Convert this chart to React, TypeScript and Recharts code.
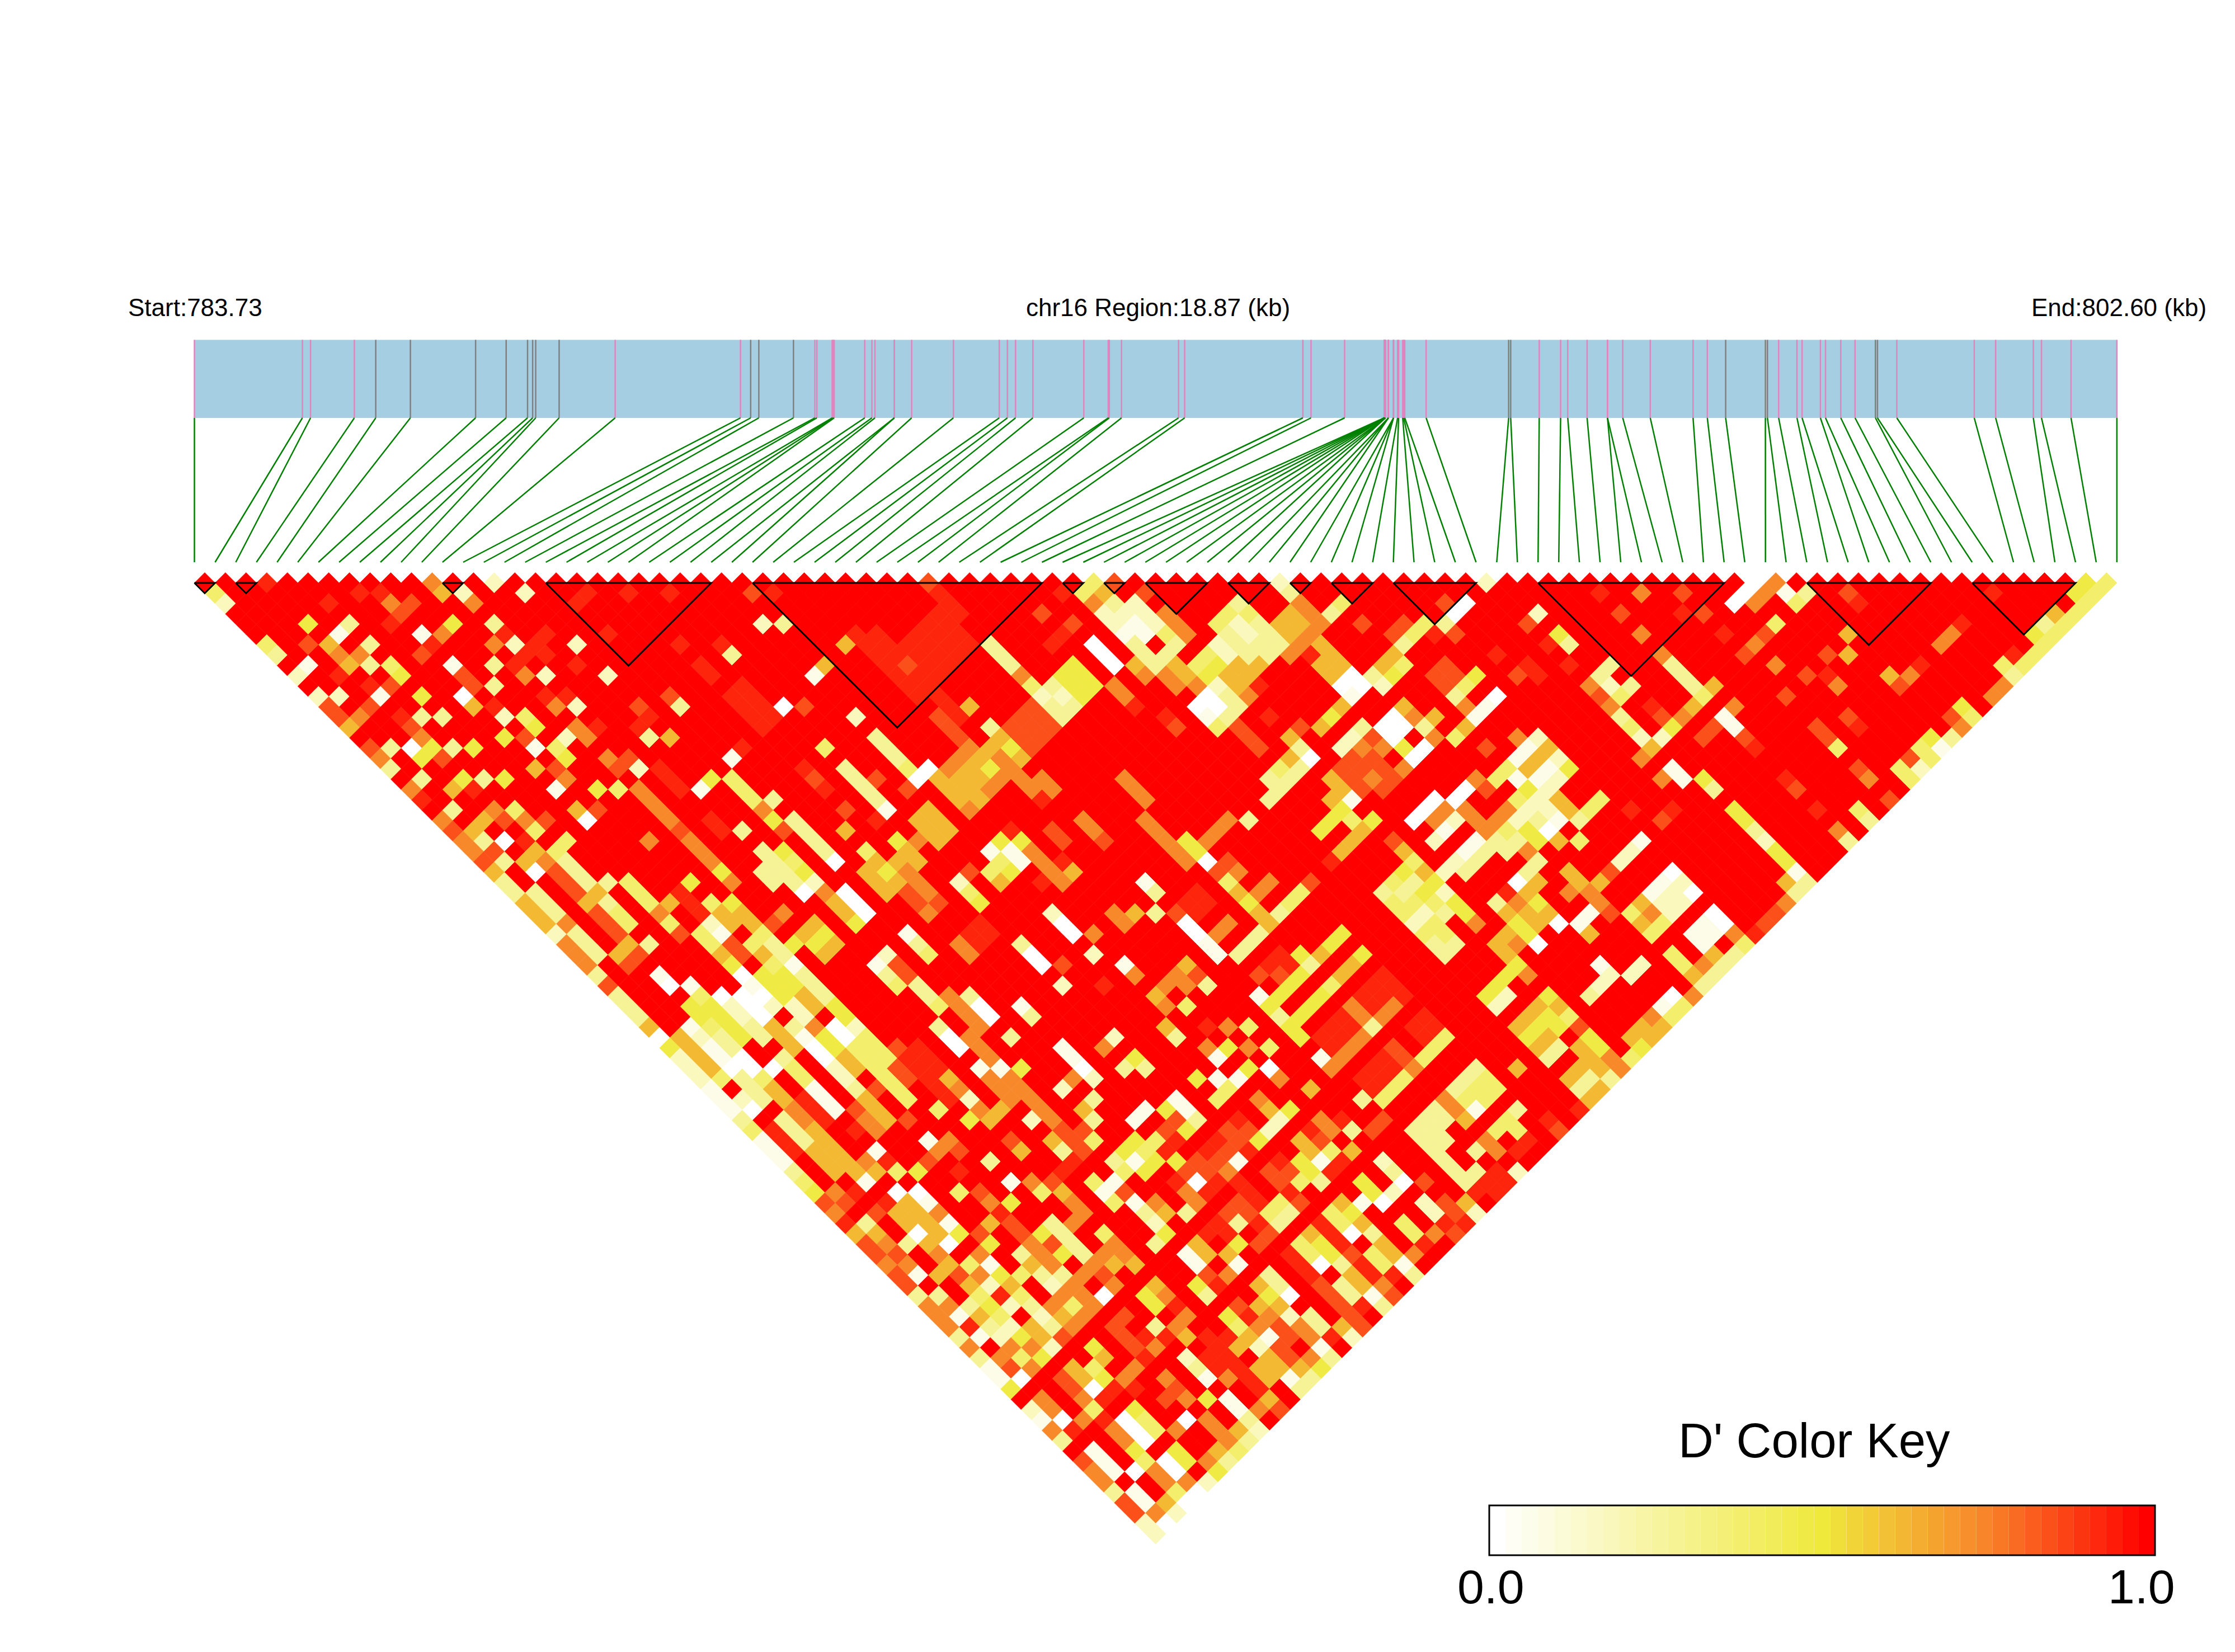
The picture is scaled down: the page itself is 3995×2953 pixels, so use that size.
import { ReferenceArea, ReferenceLine, Scatter, ScatterChart, XAxis, YAxis } from "recharts";

const WIDTH = 3995;
const HEIGHT = 2953;
const STEP = 18.475; // half a cell, in px
const LEFT = 347.5;
const TOP = 1023.5;

const START_KB = 783.73;
const END_KB = 802.6;

// SNP positions along the region, kb
const SNP_KB = [
  783.73, 784.79, 784.87, 785.3, 785.51, 785.85, 786.49, 786.79, 787.0, 787.05, 787.08, 787.31, 787.86, 789.09, 789.19,
  789.27, 789.61, 789.82, 789.84, 789.99, 790.0, 790.01, 790.31, 790.38, 790.41, 790.6, 790.6, 790.77, 791.18, 791.63,
  791.71, 791.79, 791.96, 792.46, 792.7, 792.71, 792.83, 793.39, 793.45, 794.61, 794.69, 795.02, 795.41, 795.41, 795.41,
  795.41, 795.41, 795.41, 795.42, 795.42, 795.42, 795.45, 795.45, 795.45, 795.5, 795.5, 795.5, 795.54, 795.55, 795.59,
  795.6, 795.61, 795.82, 796.63, 796.65, 796.93, 797.14, 797.21, 797.4, 797.6, 797.6, 797.75, 798.02, 798.44, 798.58,
  798.76, 799.15, 799.17, 799.28, 799.46, 799.51, 799.69, 799.74, 799.89, 800.03, 800.23, 800.25, 800.44, 801.2, 801.41,
  801.78, 801.86, 802.15, 802.6,
];
const GRAY_SNPS = [4, 5, 6, 7, 8, 9, 10, 11, 14, 15, 16, 63, 64, 75, 76, 77, 85, 86];

// haplotype blocks, first and last SNP
const BLOCKS = [
  [0, 1], [2, 3], [12, 13], [17, 25], [27, 41], [42, 43], [44, 45], [46, 49], [50, 52], [53, 54], [55, 57], [58, 62],
  [65, 74], [78, 84], [86, 91],
];

// D' of a level digit; anything not listed below is 1.0
const LEVEL_VALUES = [0, 0.06, 0.17, 0.27, 0.38, 0.48, 0.62, 0.74, 0.85, 0.93];

// wide areas: column, depth, cells down-right, cells down-left, level
const PATCHES = [
  [71, 1, 3, 0, 9], [64, 6, 6, 0, 9], [66, 6, 8, 0, 9], [45, 19, 2, 0, 9], [81, 13, 2, 2, 8], [121, 9, 1, 1, 8],
  [115, 39, 2, 2, 9], [119, 43, 1, 1, 9], [115, 47, 2, 2, 9], [111, 43, 2, 2, 9], [105, 37, 1, 1, 9], [97, 31, 1, 1, 9],
  [76, 34, 1, 1, 9], [70, 47, 1, 1, 9], [53, 11, 3, 1, 9], [58, 11, 4, 1, 9], [72, 4, 3, 3, 9], [47, 25, 3, 0, 7],
  [73, 41, 3, 0, 7], [68, 46, 2, 1, 8], [70, 46, 4, 1, 9], [76, 46, 3, 0, 7], [79, 49, 4, 0, 7], [92, 24, 4, 0, 7],
];

// cells read as column,depth,level
const CELLS_UPPER_LEFT = `7,1,9 23,1,7 29,1,2 71,1,8 87,1,4 89,1,8 2,2,4 16,2,9 18,2,9 24,2,6 26,2,2 32,2,2 38,2,9 42,2,9 46,2,9 54,2,8 56,2,9 72,2,9 84,2,9 86,2,4 88,2,6 92,2,8
3,3,2 13,3,9 19,3,7 21,3,8 27,3,7 37,3,9 87,3,7 89,3,3 91,3,2 20,4,8 82,4,8 88,4,2 90,4,2 92,4,2 11,5,5 15,5,3 19,5,9 25,5,5 29,5,3 55,5,2 57,5,3 85,5,8 89,5,2 91,5,1 14,6,1 22,6,1 24,6,7 30,6,9 34,6,9 40,6,9 84,6,9 90,6,1 92,6,1
7,7,4 11,7,8 13,7,6 17,7,3 23,7,9 29,7,7 31,7,2 33,7,9 37,7,2 47,7,9 51,7,9 63,7,6 77,7,3 83,7,9 87,7,0 91,7,3 8,8,3 14,8,7 16,8,7 22,8,8 32,8,9 34,8,9 52,8,3 78,8,3 88,8,0 92,8,3
11,9,1 15,9,6 17,9,3 19,9,4 25,9,1 29,9,3 31,9,9 37,9,9 49,9,9 61,9,6 69,9,8 79,9,3 85,9,5 89,9,0 91,9,6 10,10,2 14,10,9 20,10,5 26,10,8 32,10,7 34,10,2 40,10,2 50,10,9 60,10,1 80,10,7 84,10,5 86,10,5 92,10,7
17,11,9 19,11,8 27,11,8 29,11,3 81,11,4 83,11,3 85,11,5 87,11,5 89,11,7 12,12,2 14,12,2 18,12,1 22,12,5 26,12,0 34,12,9 36,12,9 46,12,8 82,12,2 84,12,2 86,12,5 90,12,7
13,13,8 17,13,8 27,13,6 29,13,9 35,13,7 37,13,2 43,13,8 47,13,3 57,13,0 59,13,8 73,13,9 75,13,6 83,13,3 85,13,3 91,13,9 14,14,8 16,14,7 20,14,9 22,14,3 24,14,3 30,14,2 32,14,4 44,14,9 64,14,2 72,14,8 84,14,3
15,15,6 21,15,8 33,15,5 37,15,7 39,15,9 43,15,9 73,15,8 77,15,3 22,16,7 30,16,5 32,16,8 36,16,2 38,16,7 44,16,3 46,16,6 66,16,3 74,16,8 78,16,6
17,17,8 19,17,3 21,17,0 23,17,5 25,17,3 27,17,5 33,17,1 35,17,4 53,17,9 61,17,4 67,17,3 75,17,7 77,17,6 79,17,5 18,18,7 22,18,5 24,18,8 36,18,5 40,18,7 42,18,8 52,18,1 68,18,3 74,18,7 76,18,6 78,18,7 80,18,6
19,19,3 33,19,6 35,19,8 41,19,8 43,19,2 59,19,9 63,19,3 69,19,4 71,19,0 73,19,7 75,19,6 77,19,5 79,19,7 22,20,3 26,20,5 28,20,3 30,20,5 36,20,7 50,20,5 52,20,4 60,20,8 64,20,3 66,20,8 70,20,0 72,20,6 74,20,6 76,20,6 78,20,7 80,20,7 82,20,7 90,20,7
21,21,7 25,21,6 27,21,9 35,21,1 39,21,5 41,21,4 43,21,7 49,21,1 53,21,4 61,21,9 65,21,3 69,21,8 73,21,6 75,21,6 77,21,7 81,21,7 83,21,7 91,21,7 22,22,9 44,22,7 54,22,4 56,22,3 66,22,3 74,22,6 76,22,6 82,22,9 92,22,7
25,23,3 29,23,7 31,23,4 37,23,6 39,23,8 45,23,7 55,23,7 63,23,8 67,23,1 71,23,6 75,23,7 24,24,7 28,24,6 30,24,8 32,24,7 34,24,8 38,24,0 46,24,7 50,24,9 56,24,5 58,24,3 66,24,9 70,24,6 72,24,6 86,24,7
25,25,8 27,25,6 33,25,4 47,25,8 51,25,9 53,25,3 57,25,8 59,25,3 63,25,6 71,25,6 73,25,6 79,25,9 83,25,8 87,25,7 26,26,7 28,26,3 30,26,0 32,26,9 36,26,4 44,26,7 48,26,7 60,26,3 68,26,5 70,26,7 72,26,6 78,26,5 80,26,5 84,26,8 88,26,8`;

const CELLS_UPPER_RIGHT = `105,1,2 125,1,2 151,1,0 153,1,7 183,1,5 185,1,4 106,2,3 136,2,9 140,2,7 144,2,8 150,2,0 152,2,7 154,2,1 156,2,3 160,2,8 174,2,9 182,2,5 184,2,4
101,3,3 107,3,7 111,3,4 121,3,8 123,3,0 149,3,0 151,3,7 155,3,4 161,3,9 183,3,4 94,4,7 100,4,4 102,4,4 106,4,6 108,4,7 110,4,3 122,4,0 130,4,2 138,4,8 144,4,9 146,4,8 180,4,6 182,4,4
93,5,2 95,5,7 99,5,4 101,5,2 103,5,3 105,5,6 107,5,6 109,5,7 113,5,8 117,5,8 119,5,4 121,5,3 129,5,8 153,5,4 171,5,9 179,5,3 181,5,4 94,6,4 96,6,7 100,6,3 102,6,2 104,6,3 106,6,6 108,6,7 116,6,8 118,6,4 120,6,9 122,6,8 132,6,5 140,6,7 148,6,9 152,6,8 160,6,6 170,6,7 178,6,5 180,6,4
95,7,3 99,7,2 101,7,3 103,7,3 105,7,3 107,7,7 109,7,6 117,7,3 131,7,9 133,7,3 151,7,7 169,7,7 179,7,4 94,8,3 98,8,4 100,8,2 102,8,3 104,8,3 106,8,7 108,8,9 110,8,6 116,8,6 126,8,9 142,8,7 150,8,8 158,8,8 160,8,6 176,8,9 178,8,4
93,9,3 95,9,6 97,9,4 99,9,5 101,9,6 103,9,6 109,9,6 111,9,6 115,9,6 117,9,4 129,9,9 133,9,9 137,9,3 143,9,3 153,9,7 167,9,9 175,9,4 177,9,4
94,10,7 96,10,6 98,10,5 100,10,6 102,10,6 110,10,6 112,10,0 114,10,3 116,10,5 124,10,5 128,10,8 130,10,9 136,10,3 144,10,3 156,10,8 158,10,9 164,10,6 166,10,7 176,10,3
95,11,7 97,11,7 99,11,2 101,11,6 103,11,9 111,11,0 113,11,0 115,11,2 123,11,4 135,11,7 137,11,2 139,11,3 145,11,3 147,11,6 159,11,7 165,11,8 175,11,7
98,12,0 100,12,3 102,12,7 112,12,1 122,12,3 126,12,0 136,12,8 138,12,4 146,12,4 154,12,8 174,12,7
97,13,0 99,13,0 101,13,3 111,13,6 117,13,6 123,13,7 125,13,1 137,13,7 141,13,9 145,13,6 149,13,7 171,13,5 94,14,9 98,14,1 100,14,3 104,14,9 110,14,5 116,14,0 118,14,7 120,14,6 124,14,1 138,14,3 142,14,8 144,14,7 148,14,1 160,14,8 170,14,8 172,14,4
95,15,8 99,15,4 101,15,8 107,15,8 109,15,6 113,15,3 115,15,0 117,15,0 119,15,3 123,15,6 139,15,4 143,15,5 147,15,8 149,15,1 157,15,8 161,15,9 171,15,7
102,16,8 106,16,6 112,16,2 114,16,8 116,16,0 120,16,7 122,16,4 128,16,7 130,16,2 140,16,2 142,16,2 146,16,8 150,16,8 158,16,8 168,16,5 170,16,3
103,17,8 107,17,3 111,17,2 113,17,7 115,17,7 117,17,5 119,17,0 125,17,8 129,17,1 131,17,6 141,17,6 151,17,9 159,17,4 167,17,4 169,17,1
106,18,6 108,18,0 112,18,8 114,18,8 118,18,0 128,18,1 130,18,6 132,18,2 140,18,7 166,18,8 168,18,4
105,19,4 107,19,3 111,19,8 113,19,8 115,19,8 117,19,7 127,19,4 129,19,6 131,19,1 133,19,5 143,19,1 161,19,8 165,19,4 167,19,2
104,20,3 106,20,3 110,20,6 112,20,8 114,20,7 116,20,8 124,20,7 126,20,4 128,20,1 130,20,1 132,20,2 142,20,7 144,20,1 146,20,5 154,20,9 162,20,7 166,20,4
105,21,3 111,21,6 113,21,8 115,21,8 123,21,0 125,21,8 129,21,5 131,21,2 147,21,3 155,21,8 104,22,3 110,22,6 112,22,1 120,22,0 122,22,0 128,22,4 130,22,2 132,22,6 136,22,4 163,22,8
111,23,5 119,23,0 121,23,7 123,23,7 127,23,7 129,23,2 131,23,2 133,23,6 135,23,4 139,23,9 143,23,9 149,23,5 157,23,9 161,23,4
100,24,7 102,24,3 110,24,5 112,24,4 114,24,5 118,24,0 120,24,7 122,24,2 124,24,7 126,24,7 128,24,2 130,24,3 132,24,1 134,24,3 142,24,8 150,24,5 162,24,3
99,25,7 109,25,5 113,25,6 121,25,1 125,25,7 127,25,4 129,25,5 131,25,0 151,25,3 159,25,7
96,26,5 98,26,7 112,26,6 116,26,8 120,26,2 124,26,1 126,26,3 128,26,3 130,26,5 132,26,6 134,26,4 140,26,1 152,26,2 160,26,3`;

const CELLS_MIDDLE_LEFT = `27,27,7 29,27,8 33,27,6 35,27,4 55,27,3 57,27,5 61,27,3 65,27,4 69,27,6 77,27,1 79,27,1 81,27,7 28,28,8 30,28,3 32,28,6 34,28,7 36,28,3 50,28,7 56,28,3 58,28,4 62,28,0 66,28,6 68,28,6 70,28,6 78,28,4 80,28,1 82,28,7 84,28,9
29,29,6 33,29,0 35,29,8 37,29,3 51,29,5 55,29,3 57,29,3 59,29,5 65,29,6 67,29,5 69,29,7 75,29,8 77,29,4 79,29,5 83,29,7 85,29,6 30,30,3 36,30,8 38,30,3 40,30,3 42,30,4 48,30,5 52,30,7 56,30,3 58,30,3 60,30,2 66,30,6 68,30,6 70,30,7 74,30,2 78,30,6 82,30,9 84,30,7 92,30,1
31,31,3 33,31,3 37,31,8 39,31,6 43,31,4 47,31,9 59,31,0 61,31,7 63,31,0 67,31,6 69,31,8 71,31,7 75,31,4 32,32,6 34,32,3 38,32,6 40,32,3 44,32,4 46,32,6 48,32,9 50,32,4 52,32,5 62,32,6 64,32,0 70,32,8 72,32,8 76,32,5
33,33,6 35,33,3 39,33,8 41,33,4 45,33,7 49,33,9 51,33,6 53,33,6 57,33,7 63,33,6 65,33,0 71,33,7 83,33,2 89,33,7 91,33,6 34,34,6 36,34,7 40,34,8 42,34,4 46,34,4 50,34,2 52,34,6 54,34,6 56,34,8 60,34,6 64,34,5 84,34,0 90,34,7
35,35,2 37,35,3 41,35,8 47,35,8 49,35,4 51,35,1 55,35,4 59,35,6 61,35,5 69,35,1 85,35,0 87,35,7 36,36,7 38,36,3 42,36,6 44,36,3 50,36,4 52,36,8 54,36,4 56,36,3 58,36,5 60,36,5 62,36,6 70,36,3 74,36,7 80,36,3
37,37,7 39,37,3 41,37,6 43,37,8 51,37,6 53,37,8 55,37,6 57,37,3 61,37,6 67,37,2 71,37,4 75,37,7 81,37,0 87,37,2 38,38,7 42,38,8 52,38,5 56,38,4 58,38,1 66,38,1 68,38,8 82,38,0 84,38,8 90,38,1
39,39,3 45,39,1 53,39,0 55,39,5 57,39,5 59,39,3 67,39,3 69,39,8 91,39,7 40,40,8 46,40,0 48,40,1 54,40,1 56,40,5 58,40,5 60,40,3 68,40,4 70,40,3 84,40,2 88,40,9
41,41,3 49,41,4 51,41,0 53,41,0 55,41,0 57,41,5 59,41,6 61,41,3 71,41,3 75,41,3 42,42,3 47,42,5 50,42,5 52,42,2 54,42,0 56,42,2 58,42,2 60,42,6 62,42,5 72,42,4 76,42,0 80,42,1
43,43,3 49,43,5 51,43,5 53,43,2 55,43,0 59,43,2 63,43,5 77,43,0 81,43,3 44,44,6 48,44,1 50,44,4 52,44,5 54,44,3 56,44,6 58,44,3 60,44,7 62,44,0 64,44,2 72,44,3
45,45,0 47,45,6 49,45,2 51,45,3 53,45,5 55,45,3 57,45,6 59,45,1 61,45,5 63,45,0 65,45,4 73,45,0 75,45,7 79,45,3 89,45,2 46,46,5 48,46,6 50,46,1 52,46,3 58,46,6 60,46,0 62,46,5 64,46,4 66,46,4 74,46,0 84,46,1 88,46,7
47,47,2 49,47,6 51,47,1 53,47,0 57,47,3 61,47,0 63,47,6 65,47,4 67,47,4 85,47,1 91,47,5 48,48,2 50,48,6 52,48,0 54,48,0 56,48,0 58,48,4 62,48,2 64,48,6 66,48,4 76,48,1 78,48,1 80,48,5 86,48,0 90,48,3 92,48,3
49,49,2 51,49,4 53,49,3 55,49,4 59,49,4 63,49,2 67,49,4 73,49,6 77,49,7 85,49,7 87,49,2 50,50,1 54,50,3 56,50,6 60,50,1 64,50,3 66,50,8 68,50,4 74,50,7 78,50,7 84,50,2
51,51,1 53,51,2 55,51,3 57,51,6 59,51,9 61,51,1 65,51,6 69,51,4 75,51,2 79,51,7 87,51,3 52,52,1 54,52,0 58,52,7 60,52,9 62,52,1 64,52,8 66,52,6 72,52,4 76,52,7 78,52,6 86,52,6 92,52,1`;

const CELLS_MIDDLE_RIGHT = `97,27,5 111,27,6 117,27,6 123,27,1 125,27,3 127,27,3 129,27,7 139,27,2 153,27,5 98,28,0 100,28,8 110,28,9 118,28,4 122,28,2 124,28,3 130,28,3 138,28,2 154,28,5
99,29,8 101,29,7 117,29,5 119,29,6 121,29,2 123,29,3 129,29,3 133,29,6 137,29,8 143,29,0 155,29,1 100,30,4 104,30,7 108,30,8 116,30,4 118,30,3 120,30,5 128,30,0 130,30,6 134,30,6 136,30,6 142,30,1 144,30,2 154,30,6 156,30,3
93,31,3 101,31,6 103,31,7 107,31,4 115,31,3 117,31,3 119,31,5 121,31,2 127,31,9 129,31,6 133,31,7 135,31,7 141,31,1 143,31,2 145,31,0 155,31,3 102,32,5 106,32,4 116,32,4 118,32,4 120,32,4 122,32,5 126,32,3 128,32,7 130,32,5 136,32,7 140,32,6 142,32,2 144,32,2 154,32,7
93,33,3 95,33,8 103,33,6 105,33,3 117,33,4 119,33,2 121,33,3 123,33,5 127,33,6 129,33,6 131,33,6 135,33,1 137,33,8 139,33,4 141,33,7 143,33,2 147,33,0 153,33,8
96,34,0 100,34,7 104,34,6 118,34,2 120,34,4 124,34,7 128,34,5 130,34,6 132,34,0 134,34,1 140,34,6 142,34,4 146,34,1 148,34,0 152,34,8
97,35,0 99,35,7 103,35,3 111,35,5 119,35,4 121,35,4 127,35,6 129,35,5 135,35,6 141,35,4 145,35,1 147,35,1 149,35,7 151,35,9
98,36,1 102,36,3 110,36,5 120,36,3 122,36,3 126,36,6 128,36,7 130,36,0 146,36,1 150,36,4
99,37,1 101,37,3 107,37,5 109,37,6 113,37,5 121,37,3 127,37,6 143,37,4 147,37,6 149,37,3
96,38,6 108,38,3 112,38,6 128,38,5 136,38,1 140,38,2 144,38,4 146,38,7 148,38,3
95,39,7 97,39,8 103,39,8 105,39,8 107,39,5 111,39,6 127,39,5 129,39,7 137,39,2 139,39,2 145,39,6 147,39,3
94,40,7 96,40,7 98,40,3 106,40,5 110,40,4 126,40,5 136,40,2 146,40,3
93,41,6 103,41,1 105,41,5 109,41,5 125,41,5 127,41,2 131,41,5 135,41,3 143,41,0 145,41,7
94,42,7 96,42,4 104,42,5 108,42,5 112,42,7 116,42,7 126,42,2 130,42,6 132,42,6 142,42,1 144,42,4
105,43,3 107,43,5 113,43,7 115,43,7 129,43,6 131,43,5 133,43,4 141,43,7 143,43,4
94,44,6 98,44,9 100,44,7 102,44,4 106,44,5 114,44,3 128,44,6 130,44,5 132,44,5 134,44,8 140,44,6 142,44,6
95,45,3 107,45,5 113,45,7 121,45,4 129,45,5 131,45,6 135,45,5 139,45,6 141,45,6
98,46,7 100,46,5 102,46,7 104,46,4 112,46,7 116,46,8 120,46,4 130,46,6 132,46,3 134,46,6 136,46,5 140,46,5
99,47,1 109,47,1 111,47,7 117,47,8 119,47,4 131,47,3 135,47,6 137,47,7 139,47,4
102,48,5 104,48,0 110,48,7 118,48,7 124,48,3 128,48,6 134,48,6 136,48,6 138,48,7
97,49,5 99,49,1 101,49,1 105,49,7 117,49,4 123,49,3 125,49,4 133,49,6 135,49,3 137,49,3
100,50,4 107,50,6 108,50,6 116,50,4 122,50,3 124,50,4 126,50,4 134,50,3 136,50,6
95,51,1 99,51,4 103,51,7 113,51,3 115,51,4 121,51,7 123,51,4 125,51,4 135,51,6
94,52,5 96,52,1 104,52,6 106,52,5 120,52,3 122,52,7 124,52,1 128,52,3 134,52,9`;

// lower rows as depth|column:level
const ROWS_LOWER = [
  "53|53:3 57:3 59:7 61:9 65:7 67:6 69:8 75:5 77:6 81:2 83:7 87:3 91:1 95:8 97:3 101:9 105:2 109:7 111:9 115:8 119:3 121:3 123:6 127:4 131:9",
  "54|54:4 56:9 58:3 60:6 64:9 66:7 84:8 86:8 94:8 96:5 100:8 102:8 104:2 108:9 110:7 112:3 114:8 118:3 120:3 126:4 128:4 132:8",
  "55|55:1 57:9 59:3 61:6 71:1 73:7 79:8 83:6 85:8 87:4 91:5 93:4 95:9 99:9 101:8 103:5 107:6 109:8 119:3 121:3 125:7 129:9",
  "56|56:1 58:9 60:6 62:6 66:1 72:7 74:8 80:6 84:3 86:8 90:5 92:4 94:9 98:9 100:8 102:9 108:6 110:4 112:6 120:3 124:3 126:7 128:9",
  "57|57:1 61:6 63:6 65:7 67:9 71:8 77:3 85:9 89:3 91:1 93:5 95:5 97:8 99:8 101:1 105:9 107:5 109:1 111:9 115:2 121:3",
  "58|58:3 62:6 64:6 66:6 68:4 70:5 74:9 84:9 90:4 92:5 96:8 98:8 100:7 104:8 106:8 108:5 110:9 116:3 122:3 124:3 126:9 128:2",
  "59|59:4 65:1 79:1 81:7 83:8 87:4 89:1 95:9 97:0 99:9 101:9 105:8 107:4 109:3 113:5 117:0 119:8 123:3 125:9 127:9",
  "60|60:5 62:7 64:9 68:0 70:0 74:4 76:8 82:4 84:6 88:1 90:8 96:7 98:9 102:9 106:9 114:5 116:2 124:9 126:9",
  "61|61:8 63:8 67:9 69:6 71:1 77:7 79:5 85:7 89:4 91:1 93:7 97:7 101:8 103:9 105:4 107:8 111:6 113:1 115:0 119:2 121:8 123:6",
  "62|62:7 66:8 68:6 70:6 72:7 78:9 86:7 92:3 94:6 96:3 100:8 102:8 104:4 106:3 110:4 112:5 120:2 122:8 124:2",
  "63|63:9 65:3 69:6 71:6 73:1 77:6 79:8 83:3 85:7 93:2 99:9 101:3 103:9 105:3 109:9 111:4 113:6 117:4 121:9 123:9",
  "64|64:6 66:6 70:0 72:6 74:5 76:8 80:8 82:5 84:3 88:4 94:5 98:9 100:9 104:8 108:6 110:9 112:0 114:3 118:4 120:7 122:8",
  "65|65:8 67:7 69:3 71:6 73:0 77:5 81:7 83:8 85:3 89:7 93:3 97:6 101:5 103:8 107:4 109:5 111:9 115:6 119:9",
  "66|66:8 68:8 72:7 76:7 80:3 82:7 84:5 86:3 88:7 90:7 96:1 98:6 100:6 106:9 108:4 110:5 112:8 114:4 116:6 118:7",
  "67|67:7 69:7 73:6 75:4 77:1 81:6 83:7 87:7 89:6 91:6 97:1 101:1 107:9 109:0 111:3 113:9 115:4 117:1",
  "68|68:8 70:1 72:6 74:8 76:7 78:5 80:4 82:3 84:3 86:7 88:8 98:8 100:7 104:3 108:9 112:6 114:9 116:9 118:3",
  "69|69:8 75:6 77:2 79:6 83:2 85:7 89:7 93:6 97:5 99:9 103:6 105:3 109:8 111:3 113:6 115:7",
  "70|70:3 72:3 76:4 78:9 80:4 84:7 86:7 88:0 92:5 94:7 98:3 104:5 106:0 110:8 112:3 114:1 116:8",
  "71|71:7 73:7 75:3 77:5 79:2 81:3 83:7 85:4 87:7 93:5 95:9 101:8 103:6 105:6 111:8 113:9 115:3",
  "72|72:7 74:1 76:6 78:4 82:2 84:6 86:7 90:8 96:7 100:5 102:9 104:7 106:2 108:3 112:8",
  "73|73:7 75:9 77:3 79:2 81:6 83:3 85:7 89:8 93:3 95:7 101:4 103:7 105:8 107:7 109:3 111:6 113:8",
  "74|74:3 76:1 78:2 80:5 82:6 84:8 90:8 92:9 94:9 96:6 98:9 100:9 102:6 104:1 106:8 108:7 110:9 112:2",
  "75|75:7 79:7 81:7 83:2 87:5 91:8 93:7 99:9 101:6 103:2 105:8 109:1",
  "76|76:3 78:7 80:4 82:5 88:6 92:9 96:2 98:9 100:9 104:6 106:8 108:7 110:3",
  "77|77:1 79:8 81:7 85:6 87:4 91:7 97:3 99:9 101:9 103:6 105:6 107:6 109:5",
  "78|78:1 80:0 84:8 86:6 88:5 90:7 94:7 98:1 100:7 102:9 104:6 106:1 108:3",
  "79|79:5 85:8 87:0 89:9 91:9 95:8 103:9 107:3",
  "80|82:7 86:7 88:9 94:8 96:7 98:5 100:1 104:6",
  "81|81:2 83:7 87:4 91:5 101:1 103:7 105:8",
  "82|82:1 84:0 86:7 88:9 90:0 92:4 96:0 98:7 102:3",
  "83|83:7 85:9 89:7 91:0 93:4 95:7 99:7 101:6 103:2",
  "84|84:3 90:7 92:0 100:7 102:3",
  "85|87:1 91:5 95:5 99:6 101:4",
  "86|86:8 88:1 92:4 94:0 96:5 98:7 100:3",
  "87|87:7 89:1 91:0 93:7 95:0 99:5",
  "88|88:7 94:7 96:7 98:2",
  "89|89:3 91:1 95:4 97:0",
  "90|90:8 92:1 94:6 96:0",
  "91|91:8 93:7 95:2",
  "92|92:2 94:0",
  "93|93:2",
];

const KEY_STEPS = 41;
const KEY_STOPS: [number, number[]][] = [
  [0, [255, 255, 255]],
  [0.5, [239, 233, 60]],
  [0.75, [248, 133, 42]],
  [1, [255, 0, 0]],
];

function colorOf(value: number) {
  let k = 0;
  while (k < KEY_STOPS.length - 2 && value > KEY_STOPS[k + 1][0]) k += 1;
  const [a, ca] = KEY_STOPS[k];
  const [b, cb] = KEY_STOPS[k + 1];
  const t = (value - a) / (b - a);
  const rgb = ca.map((c, n) => Math.round(c + (cb[n] - c) * t));
  return `rgb(${rgb.join(",")})`;
}

const levels = new Map<string, number>();
PATCHES.forEach(([q, d, a, b, l]) => {
  for (let s = 0; s <= a; s += 1) {
    for (let t = 0; t <= b; t += 1) levels.set(`${q + s - t},${d + s + t}`, l);
  }
});
function putCell(q: number, d: number, l: number) {
  levels.set(`${(q + d) % 2 ? q + 1 : q},${d}`, l);
}
[CELLS_UPPER_LEFT, CELLS_UPPER_RIGHT, CELLS_MIDDLE_LEFT, CELLS_MIDDLE_RIGHT].forEach((text) => {
  text.split(/\s+/).forEach((token) => {
    const [q, d, l] = token.split(",").map(Number);
    putCell(q, d, l);
  });
});
ROWS_LOWER.forEach((row) => {
  const [depth, cells] = row.split("|");
  cells.split(" ").forEach((cell) => {
    const [q, l] = cell.split(":").map(Number);
    putCell(q, Number(depth), l);
  });
});

const lastDepth = SNP_KB.length - 1;
const cells: { q: number; d: number; fill: string }[] = [];
for (let d = 1; d <= lastDepth; d += 1) {
  for (let q = d; q <= 2 * lastDepth - d; q += 2) {
    const level = levels.get(`${q},${d}`);
    cells.push({ q, d, fill: level === undefined ? "#ff0000" : colorOf(LEVEL_VALUES[level]) });
  }
}

// layout helpers, px to the chart's own units
const xAt = (px: number) => (px - LEFT) / STEP;
const yAt = (px: number) => (px - TOP) / STEP;
const bandX = (kb: number) => ((kb - START_KB) / (END_KB - START_KB)) * 2 * lastDepth;

const BAND_TOP = yAt(607.5);
const BAND_BOTTOM = yAt(747);
const LINKS_BOTTOM = yAt(1005);
const BLOCK_TOP = 1;

const KEY_LEFT = xAt(2662);
const KEY_RIGHT = xAt(3852);
const KEY_TOP = yAt(2691);
const KEY_BOTTOM = yAt(2780);

function Diamond(props: any) {
  const { cx, cy, payload } = props;
  const points = `${cx},${cy - STEP} ${cx + STEP},${cy} ${cx},${cy + STEP} ${cx - STEP},${cy}`;
  return <polygon points={points} fill={payload.fill} stroke={payload.fill} strokeWidth={0.7} />;
}

const NoMarker = () => <g />;

const labelFont = "'Liberation Sans', Arial, sans-serif";

export default function App() {
  return (
    <div style={{ position: "absolute", left: 0, top: 0, width: WIDTH, height: HEIGHT, background: "#fff" }}>
      <ScatterChart width={WIDTH} height={HEIGHT} margin={{ top: 0, right: 0, bottom: 0, left: 0 }}>
        <XAxis type="number" dataKey="q" hide domain={[xAt(0), xAt(WIDTH)]} allowDataOverflow />
        <YAxis type="number" dataKey="d" hide reversed domain={[yAt(0), yAt(HEIGHT)]} allowDataOverflow />

        <ReferenceArea x1={0} x2={2 * lastDepth} y1={BAND_TOP} y2={BAND_BOTTOM} fill="#a6cee3" fillOpacity={1} stroke="none" />
        {SNP_KB.map((kb, i) => (
          <ReferenceLine
            key={`tick-${i}`}
            segment={[{ x: bandX(kb), y: BAND_TOP }, { x: bandX(kb), y: BAND_BOTTOM }]}
            stroke={GRAY_SNPS.includes(i) ? "#808080" : "#df85be"}
            strokeWidth={2.5}
          />
        ))}
        {SNP_KB.map((kb, i) => (
          <ReferenceLine
            key={`link-${i}`}
            segment={[{ x: bandX(kb), y: BAND_BOTTOM }, { x: 2 * i, y: LINKS_BOTTOM }]}
            stroke="#008000"
            strokeWidth={2.5}
          />
        ))}

        <Scatter data={cells} shape={Diamond} isAnimationActive={false} />

        {BLOCKS.map(([a, b]) => (
          <Scatter
            key={`block-${a}`}
            data={[
              { q: 2 * a, d: BLOCK_TOP },
              { q: 2 * b, d: BLOCK_TOP },
              { q: a + b, d: BLOCK_TOP + b - a },
              { q: 2 * a, d: BLOCK_TOP },
            ]}
            line={{ stroke: "#000", strokeWidth: 3 }}
            lineType="joint"
            shape={NoMarker}
            isAnimationActive={false}
          />
        ))}

        {Array.from({ length: KEY_STEPS }, (_, k) => (
          <ReferenceArea
            key={`key-${k}`}
            x1={KEY_LEFT + ((KEY_RIGHT - KEY_LEFT) * k) / KEY_STEPS}
            x2={KEY_LEFT + ((KEY_RIGHT - KEY_LEFT) * (k + 1)) / KEY_STEPS}
            y1={KEY_TOP}
            y2={KEY_BOTTOM}
            fill={colorOf(k / (KEY_STEPS - 1))}
            fillOpacity={1}
            stroke="none"
          />
        ))}
        <ReferenceArea x1={KEY_LEFT} x2={KEY_RIGHT} y1={KEY_TOP} y2={KEY_BOTTOM} fill="none" stroke="#000" strokeWidth={3} />

        <text x={229} y={565} fontFamily={labelFont} fontSize={44}>Start:783.73</text>
        <text x={1834} y={565} fontFamily={labelFont} fontSize={44}>chr16 Region:18.87 (kb)</text>
        <text x={3631} y={565} fontFamily={labelFont} fontSize={44}>End:802.60 (kb)</text>
        <text x={3000} y={2605} fontFamily={labelFont} fontSize={87}>D' Color Key</text>
        <text x={2605} y={2866} fontFamily={labelFont} fontSize={86}>0.0</text>
        <text x={3768} y={2866} fontFamily={labelFont} fontSize={86}>1.0</text>
      </ScatterChart>
    </div>
  );
}
